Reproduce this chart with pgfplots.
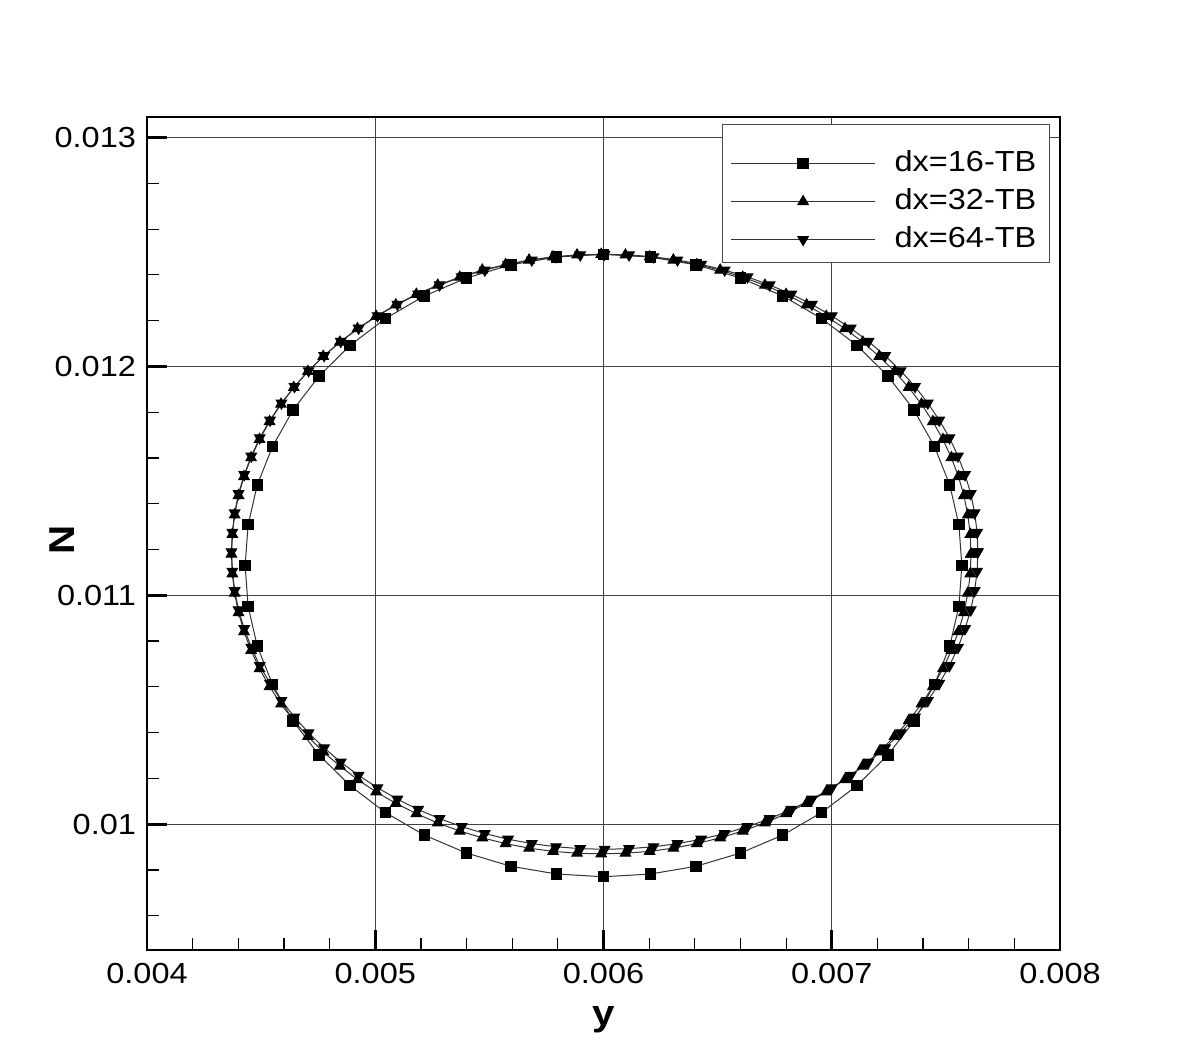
\documentclass[border=0pt]{standalone}
\usepackage{pgfplots}
\pgfplotsset{compat=1.18}
\usepackage{fontspec}
\setmainfont{Liberation Sans}[FakeStretch=1.12]
\setsansfont{Liberation Sans}[FakeStretch=1.12]
\begin{document}
\begin{tikzpicture}
\begin{axis}[
  name=ax,
  scale only axis,
  width=456.5pt, height=416.5pt,
  xmin=0.004, xmax=0.008, ymin=0.00945, ymax=0.01309,
  scaled ticks=false,
  xtick={0.004,0.005,0.006,0.007,0.008},
  xticklabels={0.004,0.005,0.006,0.007,0.008},
  ytick={0.010,0.011,0.012,0.013},
  yticklabels={0.01,0.011,0.012,0.013},
  minor xtick={0.0042,0.0044,0.0046,0.0048,0.0052,0.0054,0.0056,0.0058,0.0062,0.0064,0.0066,0.0068,0.0072,0.0074,0.0076,0.0078},
  minor ytick={0.0096,0.0098,0.0102,0.0104,0.0106,0.0108,0.0112,0.0114,0.0116,0.0118,0.0122,0.0124,0.0126,0.0128},
  tick pos=left,
  tick align=inside,
  major tick length=10pt, minor tick length=6pt,
  every major tick/.style={line width=1.4pt, black},
  every minor tick/.style={line width=0.6pt, black},
  xmajorgrids, ymajorgrids,
  major grid style={line width=0.6pt, black!75},
  axis line style={line width=1.4pt},
  tick label style={font=\fontsize{14.5}{17}\selectfont},
  xticklabel style={yshift=-3pt},
  yticklabel style={xshift=-2pt},
  xlabel={\bfseries y}, ylabel={\bfseries N},
  label style={font=\fontsize{18}{21}\selectfont},
  xlabel style={at={(axis description cs:0.5,-0.084)}, anchor=center},
  ylabel style={at={(axis description cs:-0.093,0.492)}, anchor=center},
  legend style={at={(axis description cs:0.989,0.9916)}, anchor=north east,
    draw=black!70, line width=0.6pt, fill=white,
    font=\fontsize{14.5}{17}\selectfont,
    inner xsep=4pt, inner ysep=2pt,
    nodes={inner sep=2.5pt, text height=11pt, text depth=3pt},
    /tikz/every odd column/.append style={column sep=7pt},
    cells={anchor=east}},
  legend image code/.code={\draw[mark repeat=2,mark phase=2,#1] plot coordinates {(0pt,0pt) (36pt,0pt) (72pt,0pt)};},
  every axis plot/.append style={line width=0.5pt, draw=black!80},
]
\addlegendimage{empty legend}
\addlegendentry[text height=5pt, text depth=0pt, inner sep=1.5pt]{}
\addplot[mark=square*, mark size=2.6pt, mark options={fill=black, draw=black}] coordinates {
(0.007570,0.011130) (0.007557,0.011308) (0.007517,0.011482) (0.007450,0.011650) (0.007360,0.011810) (0.007246,0.011958) (0.007110,0.012092) (0.006956,0.012209) (0.006785,0.012308) (0.006601,0.012386) (0.006406,0.012444) (0.006205,0.012478) (0.006000,0.012490)
(0.005795,0.012478) (0.005594,0.012444) (0.005399,0.012386) (0.005215,0.012308) (0.005044,0.012209) (0.004890,0.012092) (0.004754,0.011958) (0.004640,0.011810) (0.004550,0.011650) (0.004483,0.011482) (0.004443,0.011308) (0.004430,0.011130)
(0.004443,0.010952) (0.004483,0.010778) (0.004550,0.010610) (0.004640,0.010450) (0.004754,0.010302) (0.004890,0.010168) (0.005044,0.010051) (0.005215,0.009952) (0.005399,0.009874) (0.005594,0.009816) (0.005795,0.009782) (0.006000,0.009770)
(0.006205,0.009782) (0.006406,0.009816) (0.006601,0.009874) (0.006785,0.009952) (0.006956,0.010051) (0.007110,0.010168) (0.007246,0.010302) (0.007360,0.010450) (0.007450,0.010610) (0.007517,0.010778) (0.007557,0.010952) (0.007570,0.011130)
};
\addlegendentry{dx=16-TB}
\addplot[mark=triangle*, mark size=3pt, mark options={fill=black, draw=black}] coordinates {
(0.007610,0.011180) (0.007607,0.011266) (0.007596,0.011351) (0.007579,0.011436) (0.007555,0.011519) (0.007524,0.011601) (0.007487,0.011681) (0.007443,0.011759) (0.007393,0.011835) (0.007337,0.011908) (0.007275,0.011978) (0.007208,0.012044) (0.007136,0.012106) (0.007058,0.012165) (0.006976,0.012219) (0.006890,0.012269) (0.006800,0.012315) (0.006707,0.012355) (0.006610,0.012390) (0.006511,0.012421) (0.006409,0.012445) (0.006306,0.012465) (0.006202,0.012479) (0.006096,0.012487) (0.005990,0.012490)
(0.005884,0.012487) (0.005779,0.012479) (0.005674,0.012465) (0.005571,0.012445) (0.005469,0.012421) (0.005370,0.012390) (0.005274,0.012355) (0.005180,0.012315) (0.005090,0.012269) (0.005004,0.012219) (0.004922,0.012165) (0.004845,0.012106) (0.004772,0.012044) (0.004705,0.011978) (0.004643,0.011908) (0.004587,0.011835) (0.004537,0.011759) (0.004493,0.011681) (0.004456,0.011601) (0.004425,0.011519) (0.004401,0.011436) (0.004384,0.011351) (0.004374,0.011266) (0.004370,0.011180)
(0.004374,0.011094) (0.004384,0.011009) (0.004401,0.010924) (0.004425,0.010841) (0.004456,0.010759) (0.004493,0.010679) (0.004537,0.010601) (0.004587,0.010525) (0.004643,0.010452) (0.004705,0.010383) (0.004772,0.010316) (0.004845,0.010254) (0.004922,0.010195) (0.005004,0.010141) (0.005090,0.010091) (0.005180,0.010046) (0.005274,0.010005) (0.005370,0.009970) (0.005469,0.009940) (0.005571,0.009915) (0.005674,0.009895) (0.005779,0.009881) (0.005884,0.009873) (0.005990,0.009870)
(0.006096,0.009873) (0.006202,0.009881) (0.006306,0.009895) (0.006409,0.009915) (0.006511,0.009940) (0.006610,0.009970) (0.006707,0.010005) (0.006800,0.010046) (0.006890,0.010091) (0.006976,0.010141) (0.007058,0.010195) (0.007136,0.010254) (0.007208,0.010316) (0.007275,0.010383) (0.007337,0.010452) (0.007393,0.010525) (0.007443,0.010601) (0.007487,0.010679) (0.007524,0.010759) (0.007555,0.010841) (0.007579,0.010924) (0.007596,0.011009) (0.007607,0.011094) (0.007610,0.011180)
};
\addlegendentry{dx=32-TB}
\addplot[mark=triangle*, mark size=3pt, mark options={fill=black, draw=black, rotate=180}] coordinates {
(0.007640,0.011190) (0.007637,0.011275) (0.007626,0.011360) (0.007609,0.011444) (0.007584,0.011527) (0.007553,0.011608) (0.007516,0.011688) (0.007471,0.011765) (0.007421,0.011840) (0.007365,0.011912) (0.007302,0.011981) (0.007234,0.012047) (0.007161,0.012109) (0.007083,0.012167) (0.007000,0.012221) (0.006913,0.012271) (0.006823,0.012316) (0.006728,0.012356) (0.006631,0.012391) (0.006531,0.012421) (0.006428,0.012446) (0.006324,0.012465) (0.006219,0.012479) (0.006112,0.012487) (0.006005,0.012490)
(0.005898,0.012487) (0.005792,0.012479) (0.005686,0.012465) (0.005582,0.012446) (0.005480,0.012421) (0.005379,0.012391) (0.005282,0.012356) (0.005188,0.012316) (0.005097,0.012271) (0.005010,0.012221) (0.004927,0.012167) (0.004849,0.012109) (0.004776,0.012047) (0.004708,0.011981) (0.004646,0.011912) (0.004589,0.011840) (0.004539,0.011765) (0.004494,0.011688) (0.004457,0.011608) (0.004426,0.011527) (0.004401,0.011444) (0.004384,0.011360) (0.004374,0.011275) (0.004370,0.011190)
(0.004374,0.011105) (0.004384,0.011020) (0.004401,0.010936) (0.004426,0.010854) (0.004457,0.010772) (0.004494,0.010693) (0.004539,0.010615) (0.004589,0.010540) (0.004646,0.010468) (0.004708,0.010399) (0.004776,0.010333) (0.004849,0.010271) (0.004927,0.010213) (0.005010,0.010159) (0.005097,0.010109) (0.005188,0.010064) (0.005282,0.010024) (0.005379,0.009989) (0.005480,0.009959) (0.005582,0.009934) (0.005686,0.009915) (0.005792,0.009901) (0.005898,0.009893) (0.006005,0.009890)
(0.006112,0.009893) (0.006219,0.009901) (0.006324,0.009915) (0.006428,0.009934) (0.006531,0.009959) (0.006631,0.009989) (0.006728,0.010024) (0.006823,0.010064) (0.006913,0.010109) (0.007000,0.010159) (0.007083,0.010213) (0.007161,0.010271) (0.007234,0.010333) (0.007302,0.010399) (0.007365,0.010468) (0.007421,0.010540) (0.007471,0.010615) (0.007516,0.010693) (0.007553,0.010772) (0.007584,0.010854) (0.007609,0.010936) (0.007626,0.011020) (0.007637,0.011105) (0.007640,0.011190)
};
\addlegendentry{dx=64-TB}
\end{axis}
\path (ax.south west) ++(-73.5pt,-55pt) coordinate (bl);
\path (ax.north east) ++(68pt,58.5pt) coordinate (tr);
\path (bl) rectangle (tr);
\end{tikzpicture}
\end{document}
